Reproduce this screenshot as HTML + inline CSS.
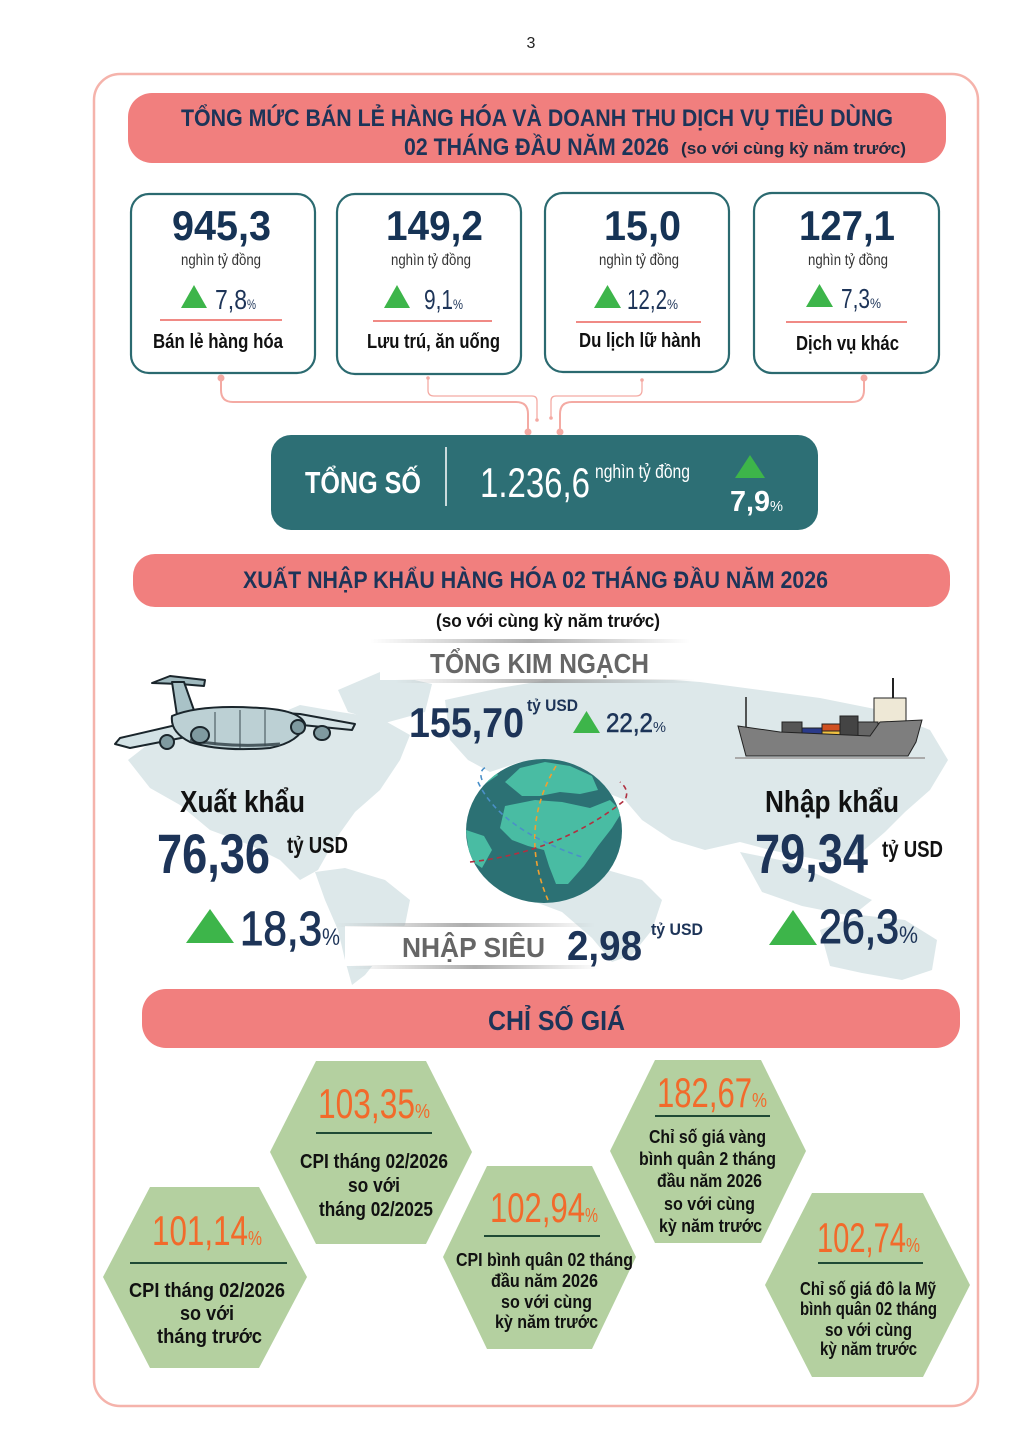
<!DOCTYPE html>
<html><head><meta charset="utf-8">
<style>
html,body{margin:0;padding:0;background:#fff}
svg{display:block}
text{font-family:"Liberation Sans",sans-serif}
.b{font-weight:bold}
</style></head>
<body>
<svg width="1024" height="1448" viewBox="0 0 1024 1448" xmlns="http://www.w3.org/2000/svg">
<defs>
<linearGradient id="sh" x1="0" x2="1" y1="0" y2="0">
<stop offset="0" stop-color="#999" stop-opacity="0"/>
<stop offset="0.5" stop-color="#999" stop-opacity="0.8"/>
<stop offset="1" stop-color="#999" stop-opacity="0"/>
</linearGradient>
<clipPath id="gc"><ellipse cx="544" cy="831" rx="78" ry="72"/></clipPath>
</defs>

<text x="531" y="48" font-size="16" text-anchor="middle" fill="#222">3</text>
<rect x="94" y="74" width="884" height="1332" rx="26" fill="none" stroke="#f5b3ab" stroke-width="2.5"/>

<!-- Header 1 -->
<rect x="128" y="93" width="818" height="70" rx="24" fill="#f17f7e"/>
<text class="b" x="181" y="126" font-size="24" fill="#1d3458" textLength="712" lengthAdjust="spacingAndGlyphs">TỔNG MỨC BÁN LẺ HÀNG HÓA VÀ DOANH THU DỊCH VỤ TIÊU DÙNG</text>
<text class="b" x="404" y="155" font-size="24" fill="#1d3458" textLength="265" lengthAdjust="spacingAndGlyphs">02 THÁNG ĐẦU NĂM 2026</text>
<text class="b" x="681" y="154" font-size="17" fill="#1d2a40" textLength="225" lengthAdjust="spacingAndGlyphs">(so với cùng kỳ năm trước)</text>

<!-- Boxes -->
<g fill="#fff" stroke="#2b6a70" stroke-width="2.2">
<rect x="131" y="194" width="184" height="179" rx="18"/>
<rect x="337" y="194" width="184" height="180" rx="18"/>
<rect x="545" y="193" width="184" height="179" rx="18"/>
<rect x="754" y="193" width="185" height="180" rx="18"/>
</g>
<g class="b" font-size="42" fill="#163355">
<text x="172" y="240" textLength="99" lengthAdjust="spacingAndGlyphs">945,3</text>
<text x="386" y="240" textLength="97" lengthAdjust="spacingAndGlyphs">149,2</text>
<text x="604" y="240" textLength="77" lengthAdjust="spacingAndGlyphs">15,0</text>
<text x="799" y="240" textLength="96" lengthAdjust="spacingAndGlyphs">127,1</text>
</g>
<g font-size="16" fill="#333">
<text x="181" y="265" textLength="80" lengthAdjust="spacingAndGlyphs">nghìn tỷ đồng</text>
<text x="391" y="265" textLength="80" lengthAdjust="spacingAndGlyphs">nghìn tỷ đồng</text>
<text x="599" y="265" textLength="80" lengthAdjust="spacingAndGlyphs">nghìn tỷ đồng</text>
<text x="808" y="265" textLength="80" lengthAdjust="spacingAndGlyphs">nghìn tỷ đồng</text>
</g>
<g fill="#3db54a">
<polygon points="181,308 194,285 207,308"/>
<polygon points="384,308 397,285 410,308"/>
<polygon points="594,308 607.5,285 621,308"/>
<polygon points="806,307 819.5,284 833,307"/>
</g>
<g font-size="28" fill="#1d3458">
<text x="215" y="309" textLength="32" lengthAdjust="spacingAndGlyphs">7,8</text>
<text x="424" y="309" textLength="29" lengthAdjust="spacingAndGlyphs">9,1</text>
<text x="627" y="309" textLength="40" lengthAdjust="spacingAndGlyphs">12,2</text>
<text x="841" y="308" textLength="29" lengthAdjust="spacingAndGlyphs">7,3</text>
</g>
<g font-size="14" fill="#1d3458">
<text x="247" y="309" textLength="9" lengthAdjust="spacingAndGlyphs">%</text>
<text x="453" y="309" textLength="10" lengthAdjust="spacingAndGlyphs">%</text>
<text x="667" y="309" textLength="11" lengthAdjust="spacingAndGlyphs">%</text>
<text x="870" y="308" textLength="11" lengthAdjust="spacingAndGlyphs">%</text>
</g>
<g stroke="#f08a85" stroke-width="2">
<line x1="160" y1="320" x2="282" y2="320"/>
<line x1="373" y1="321" x2="492" y2="321"/>
<line x1="576" y1="322" x2="701" y2="322"/>
<line x1="786" y1="322" x2="907" y2="322"/>
</g>
<g class="b" font-size="20" fill="#111">
<text x="153" y="348" textLength="130" lengthAdjust="spacingAndGlyphs">Bán lẻ hàng hóa</text>
<text x="367" y="348" textLength="133" lengthAdjust="spacingAndGlyphs">Lưu trú, ăn uống</text>
<text x="579" y="347" textLength="122" lengthAdjust="spacingAndGlyphs">Du lịch lữ hành</text>
<text x="796" y="350" textLength="103" lengthAdjust="spacingAndGlyphs">Dịch vụ khác</text>
</g>

<!-- connectors -->
<g fill="none" stroke="#f4aaa3" stroke-width="2">
<path d="M221,378 V390 Q221,402 233,402 H516 Q528,402 528,414 V432"/>
<path d="M864,378 V390 Q864,402 852,402 H572 Q560,402 560,414 V432"/>
</g>
<g fill="none" stroke="#f4aaa3" stroke-width="1.3">
<path d="M428,378 V390 Q428,396 434,396 H532 Q537,396 537,401 V420"/>
<path d="M642,380 V390 Q642,396 636,396 H556 Q551,396 551,401 V418"/>
</g>
<g fill="#f4aaa3">
<circle cx="221" cy="378" r="3.5"/><circle cx="864" cy="378" r="3.5"/>
<circle cx="528" cy="432" r="3.5"/><circle cx="560" cy="432" r="3.5"/>
<circle cx="428" cy="378" r="1.8"/><circle cx="642" cy="380" r="1.8"/>
<circle cx="537" cy="420" r="1.8"/><circle cx="551" cy="418" r="1.8"/>
</g>

<!-- Total -->
<rect x="271" y="435" width="547" height="95" rx="20" fill="#2d6f75"/>
<text class="b" x="305" y="493" font-size="31" fill="#fff" textLength="116" lengthAdjust="spacingAndGlyphs">TỔNG SỐ</text>
<line x1="446" y1="447" x2="446" y2="506" stroke="#fff" stroke-width="1.5"/>
<text x="480" y="497" font-size="42" fill="#fff" textLength="110" lengthAdjust="spacingAndGlyphs">1.236,6</text>
<text x="595" y="478" font-size="19" fill="#fff" textLength="95" lengthAdjust="spacingAndGlyphs">nghìn tỷ đồng</text>
<polygon points="735,478 750,455 765,478" fill="#3db54a"/>
<text class="b" x="730" y="511" font-size="29" fill="#fff" textLength="40" lengthAdjust="spacingAndGlyphs">7,9</text>
<text x="770" y="511" font-size="15" fill="#fff" textLength="13" lengthAdjust="spacingAndGlyphs">%</text>

<!-- Header 2 -->
<rect x="133" y="554" width="817" height="53" rx="22" fill="#f17f7e"/>
<text class="b" x="243" y="588" font-size="24" fill="#1d3458" textLength="585" lengthAdjust="spacingAndGlyphs">XUẤT NHẬP KHẨU HÀNG HÓA 02 THÁNG ĐẦU NĂM 2026</text>
<text class="b" x="436" y="627" font-size="18" fill="#111" textLength="224" lengthAdjust="spacingAndGlyphs">(so với cùng kỳ năm trước)</text>

<!-- world map -->
<g fill="#dde8ea">
<path d="M128,760 L160,735 L215,728 L260,722 L300,705 L340,712 L380,718 L410,735 L400,760 L380,790 L355,812 L335,840 L318,870 L300,880 L280,860 L250,845 L210,830 L180,805 L150,788 Z"/>
<path d="M338,690 L380,672 L432,684 L425,712 L385,723 L348,712 Z"/>
<path d="M315,872 L345,868 L385,880 L410,900 L405,925 L385,950 L365,975 L352,985 L345,960 L338,930 L325,900 Z"/>
<path d="M445,700 L500,688 L560,678 L620,676 L700,682 L760,690 L820,698 L880,710 L930,730 L948,760 L930,790 L905,812 L885,832 L862,852 L830,862 L800,856 L770,850 L740,842 L705,850 L672,840 L642,820 L625,800 L600,790 L560,762 L520,762 L490,772 L468,760 L450,740 Z"/>
<path d="M520,880 L600,868 L642,880 L662,900 L652,930 L632,955 L612,962 L592,938 L562,912 L530,900 Z"/>
<path d="M740,852 L790,862 L830,880 L872,900 L852,916 L802,906 L762,892 Z"/>
<path d="M820,930 L860,915 L905,920 L937,940 L932,970 L902,980 L862,973 L830,966 Z"/>
</g>

<!-- bands -->
<rect x="380" y="642" width="300" height="38" fill="#fff"/>
<rect x="370" y="639" width="320" height="4" fill="url(#sh)"/>
<rect x="395" y="679" width="300" height="4" fill="url(#sh)"/>
<rect x="345" y="926" width="230" height="40" fill="#fff"/>
<rect x="335" y="923" width="260" height="4" fill="url(#sh)"/>
<rect x="350" y="965" width="250" height="4" fill="url(#sh)"/>

<text class="b" x="430" y="673" font-size="28" fill="#666" textLength="219" lengthAdjust="spacingAndGlyphs">TỔNG KIM NGẠCH</text>
<text class="b" x="409" y="737" font-size="42" fill="#1d3458" textLength="115" lengthAdjust="spacingAndGlyphs">155,70</text>
<text class="b" x="527" y="711" font-size="17" fill="#1d3458" textLength="51" lengthAdjust="spacingAndGlyphs">tỷ USD</text>
<polygon points="573,733 586.5,711 600,733" fill="#3db54a"/>
<text x="606" y="732" font-size="27" fill="#1d3458" stroke="#1d3458" stroke-width="0.6" textLength="47" lengthAdjust="spacingAndGlyphs">22,2</text>
<text x="653" y="732" font-size="15" fill="#1d3458" textLength="13" lengthAdjust="spacingAndGlyphs">%</text>

<!-- plane -->
<g stroke="#1a252b" stroke-width="2" stroke-linejoin="round">
<polygon points="152,683 170,676 205,680 204,686 180,684" fill="#9fb9be"/>
<polygon points="172,682 184,682 196,716 178,722" fill="#a9c2c7"/>
<polygon points="115,744 120,738 215,716 240,718 232,728 130,748" fill="#d3e2e5"/>
<polygon points="270,712 300,714 355,724 352,730 292,724" fill="#d3e2e5"/>
<path d="M172,716 Q200,704 260,708 Q300,710 305,724 Q300,742 270,748 Q220,752 190,742 Q170,732 172,716 Z" fill="#bcd0d4"/>
<path d="M190,740 Q230,748 280,744" fill="none" stroke-width="3" stroke="#4a5a60"/>
<ellipse cx="200" cy="735" rx="9" ry="8" fill="#7f9aa0"/>
<ellipse cx="167" cy="742" rx="7" ry="7" fill="#7f9aa0"/>
<ellipse cx="298" cy="727" rx="7" ry="7" fill="#7f9aa0"/>
<ellipse cx="322" cy="733" rx="8" ry="7" fill="#7f9aa0"/>
</g>
<g stroke="#3a4a50" stroke-width="1">
<line x1="215" y1="712" x2="215" y2="745"/><line x1="240" y1="710" x2="240" y2="748"/><line x1="265" y1="710" x2="265" y2="746"/>
</g>

<!-- ship -->
<g stroke="#222" stroke-width="1">
<line x1="746" y1="697" x2="746" y2="728" stroke-width="1.5"/>
<line x1="893" y1="678" x2="893" y2="700" stroke-width="2"/>
<rect x="874" y="698" width="32" height="28" fill="#eee8d6"/>
<rect x="782" y="722" width="20" height="15" fill="#555"/>
<rect x="802" y="728" width="20" height="10" fill="#2a3a8a"/>
<rect x="822" y="724" width="18" height="7" fill="#d05020"/>
<rect x="822" y="731" width="18" height="7" fill="#f0c040"/>
<rect x="840" y="716" width="18" height="22" fill="#444"/>
<rect x="782" y="737" width="20" height="6" fill="#d05020"/>
<rect x="802" y="738" width="38" height="5" fill="#2a3a8a"/>
<rect x="858" y="722" width="20" height="16" fill="#666"/>
<path d="M738,726 L780,732 L870,736 L880,722 L922,720 L916,742 L908,756 L746,756 Z" fill="#7e7e7e"/>
</g>
<rect x="735" y="757" width="190" height="2" fill="#aaa"/>

<!-- globe -->
<ellipse cx="544" cy="831" rx="78" ry="72" fill="#2c7174"/>
<g clip-path="url(#gc)" fill="#49bca3">
<path d="M505,782 L520,768 L545,762 L570,766 L592,776 L598,790 L580,794 L560,792 L540,796 L522,796 Z"/>
<path d="M505,806 L535,800 L562,802 L590,808 L610,800 L622,812 L612,828 L598,846 L584,866 L568,884 L556,884 L549,866 L544,850 L528,846 L512,840 L500,828 Z"/>
<path d="M466,830 L484,836 L492,850 L482,868 L470,860 Z"/>
<path d="M470,772 L490,764 L498,775 L485,784 Z"/>
</g>
<g fill="none" stroke-width="1.6" stroke-dasharray="5,4">
<path d="M556,766 Q518,830 548,900" stroke="#f0a030"/>
<path d="M470,862 Q560,852 625,800 Q630,790 620,782" stroke="#b03040"/>
<path d="M482,780 Q478,770 488,766 M478,782 Q500,830 585,858" stroke="#4a90c8"/>
</g>

<!-- export / import -->
<text class="b" x="180" y="812" font-size="31" fill="#111" textLength="125" lengthAdjust="spacingAndGlyphs">Xuất khẩu</text>
<text class="b" x="157" y="873" font-size="56" fill="#1d3458" textLength="113" lengthAdjust="spacingAndGlyphs">76,36</text>
<text class="b" x="287" y="853" font-size="23" fill="#111" textLength="61" lengthAdjust="spacingAndGlyphs">tỷ USD</text>
<polygon points="186,943 210,909 234,943" fill="#3db54a"/>
<text x="240" y="945" font-size="48" fill="#1d3458" stroke="#1d3458" stroke-width="1" textLength="82" lengthAdjust="spacingAndGlyphs">18,3</text>
<text x="322" y="945" font-size="24" fill="#1d3458" textLength="18" lengthAdjust="spacingAndGlyphs">%</text>

<text class="b" x="765" y="812" font-size="31" fill="#111" textLength="134" lengthAdjust="spacingAndGlyphs">Nhập khẩu</text>
<text class="b" x="755" y="873" font-size="56" fill="#1d3458" textLength="113" lengthAdjust="spacingAndGlyphs">79,34</text>
<text class="b" x="882" y="857" font-size="23" fill="#111" textLength="61" lengthAdjust="spacingAndGlyphs">tỷ USD</text>
<polygon points="769,945 793,910 817,945" fill="#3db54a"/>
<text x="819" y="943" font-size="48" fill="#1d3458" stroke="#1d3458" stroke-width="1" textLength="80" lengthAdjust="spacingAndGlyphs">26,3</text>
<text x="899" y="943" font-size="24" fill="#1d3458" textLength="19" lengthAdjust="spacingAndGlyphs">%</text>

<text class="b" x="402" y="957" font-size="28" fill="#666" textLength="143" lengthAdjust="spacingAndGlyphs">NHẬP SIÊU</text>
<text class="b" x="567" y="960" font-size="42" fill="#1d3458" textLength="75" lengthAdjust="spacingAndGlyphs">2,98</text>
<text class="b" x="651" y="935" font-size="17" fill="#1d3458" textLength="52" lengthAdjust="spacingAndGlyphs">tỷ USD</text>

<!-- Header 3 -->
<rect x="142" y="989" width="818" height="59" rx="24" fill="#f17f7e"/>
<text class="b" x="488" y="1030" font-size="28" fill="#1d3458" textLength="137" lengthAdjust="spacingAndGlyphs">CHỈ SỐ GIÁ</text>

<!-- hexagons -->
<g fill="#b4d0a0">
<polygon points="150,1187 259,1187 307,1277 259,1368 150,1368 103,1277"/>
<polygon points="316,1061 426,1061 472,1152 426,1244 316,1244 270,1152"/>
<polygon points="487,1166 592,1166 636,1257 592,1349 487,1349 443,1257"/>
<polygon points="655,1060 761,1060 806,1151 761,1243 655,1243 610,1151"/>
<polygon points="812,1193 923,1193 970,1285 923,1377 812,1377 765,1285"/>
</g>
<g font-size="42" fill="#f26a2b">
<text x="152" y="1245" textLength="96" lengthAdjust="spacingAndGlyphs">101,14</text>
<text x="318" y="1118" textLength="97" lengthAdjust="spacingAndGlyphs">103,35</text>
<text x="490" y="1222" textLength="95" lengthAdjust="spacingAndGlyphs">102,94</text>
<text x="657" y="1107" textLength="95" lengthAdjust="spacingAndGlyphs">182,67</text>
<text x="817" y="1252" textLength="89" lengthAdjust="spacingAndGlyphs">102,74</text>
</g>
<g font-size="20" fill="#f26a2b">
<text x="248" y="1245" textLength="14" lengthAdjust="spacingAndGlyphs">%</text>
<text x="415" y="1118" textLength="15" lengthAdjust="spacingAndGlyphs">%</text>
<text x="585" y="1222" textLength="13" lengthAdjust="spacingAndGlyphs">%</text>
<text x="752" y="1107" textLength="15" lengthAdjust="spacingAndGlyphs">%</text>
<text x="906" y="1252" textLength="14" lengthAdjust="spacingAndGlyphs">%</text>
</g>
<g stroke="#1f4a35" stroke-width="2">
<line x1="130" y1="1263" x2="287" y2="1263"/>
<line x1="316" y1="1133" x2="432" y2="1133"/>
<line x1="484" y1="1236" x2="600" y2="1236"/>
<line x1="655" y1="1116" x2="770" y2="1116"/>
<line x1="818" y1="1263" x2="923" y2="1263"/>
</g>
<g class="b" font-size="20" fill="#111">
<text x="129" y="1297" textLength="156" lengthAdjust="spacingAndGlyphs">CPI tháng 02/2026</text>
<text x="180" y="1320" textLength="54" lengthAdjust="spacingAndGlyphs">so với</text>
<text x="157" y="1343" textLength="105" lengthAdjust="spacingAndGlyphs">tháng trước</text>
<text x="300" y="1168" textLength="148" lengthAdjust="spacingAndGlyphs">CPI tháng 02/2026</text>
<text x="348" y="1192" textLength="52" lengthAdjust="spacingAndGlyphs">so với</text>
<text x="319" y="1216" textLength="114" lengthAdjust="spacingAndGlyphs">tháng 02/2025</text>
</g>
<g class="b" font-size="18" fill="#111">
<text x="456" y="1266" textLength="177" lengthAdjust="spacingAndGlyphs">CPI bình quân 02 tháng</text>
<text x="491" y="1287" textLength="107" lengthAdjust="spacingAndGlyphs">đầu năm 2026</text>
<text x="501" y="1308" textLength="91" lengthAdjust="spacingAndGlyphs">so với cùng</text>
<text x="495" y="1328" textLength="103" lengthAdjust="spacingAndGlyphs">kỳ năm trước</text>
<text x="649" y="1143" textLength="117" lengthAdjust="spacingAndGlyphs">Chỉ số giá vàng</text>
<text x="639" y="1165" textLength="137" lengthAdjust="spacingAndGlyphs">bình quân 2 tháng</text>
<text x="657" y="1187" textLength="105" lengthAdjust="spacingAndGlyphs">đầu năm 2026</text>
<text x="664" y="1210" textLength="91" lengthAdjust="spacingAndGlyphs">so với cùng</text>
<text x="659" y="1232" textLength="103" lengthAdjust="spacingAndGlyphs">kỳ năm trước</text>
<text x="800" y="1295" textLength="136" lengthAdjust="spacingAndGlyphs">Chỉ số giá đô la Mỹ</text>
<text x="800" y="1315" textLength="137" lengthAdjust="spacingAndGlyphs">bình quân 02 tháng</text>
<text x="825" y="1336" textLength="87" lengthAdjust="spacingAndGlyphs">so với cùng</text>
<text x="820" y="1355" textLength="97" lengthAdjust="spacingAndGlyphs">kỳ năm trước</text>
</g>
</svg>
</body></html>
